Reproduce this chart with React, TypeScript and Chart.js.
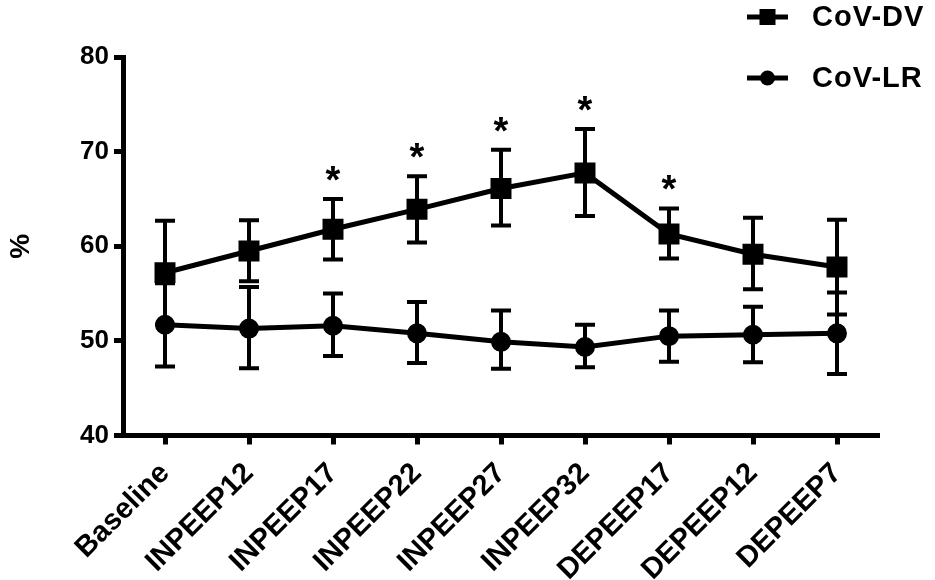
import React, { useEffect, useRef } from 'react';
import { Chart, registerables } from 'chart.js';

Chart.register(...registerables);

const FONT = '"Liberation Sans", Arial, sans-serif';

// categories and values (mean, upper / lower error bar ends)
const labels = ['Baseline', 'INPEEP12', 'INPEEP17', 'INPEEP22', 'INPEEP27', 'INPEEP32', 'DEPEEP17', 'DEPEEP12', 'DEPEEP7'];
const dvMean = [57.2, 59.5, 61.8, 63.9, 66.1, 67.75, 61.3, 59.15, 57.8];
const dvUpper = [62.7, 62.75, 65.0, 67.4, 70.2, 72.4, 64.0, 63.0, 62.8];
const dvLower = [51.7, 56.3, 58.6, 60.4, 62.2, 63.2, 58.7, 55.45, 52.8];
const lrMean = [51.7, 51.3, 51.6, 50.8, 49.9, 49.35, 50.5, 50.65, 50.8];
const lrUpper = [56.1, 55.7, 55.0, 54.1, 53.2, 51.7, 53.2, 53.6, 55.1];
const lrLower = [47.3, 47.1, 48.4, 47.65, 47.05, 47.2, 47.8, 47.75, 46.5];
const significant = [false, false, true, true, true, true, true, false, false];
const yTicks = [40, 50, 60, 70, 80];

const errorBars = {
  id: 'errorBars',
  beforeDatasetsDraw(chart: any) {
    const { ctx } = chart;
    const y = chart.scales.y;
    chart.data.datasets.forEach((ds: any, di: number) => {
      const meta = chart.getDatasetMeta(di);
      ctx.save();
      ctx.strokeStyle = '#000';
      ctx.lineWidth = 4;
      meta.data.forEach((pt: any, i: number) => {
        const top = y.getPixelForValue(ds.upper[i]);
        const bot = y.getPixelForValue(ds.lower[i]);
        ctx.beginPath();
        ctx.moveTo(pt.x, top);
        ctx.lineTo(pt.x, bot);
        ctx.moveTo(pt.x - 10, top);
        ctx.lineTo(pt.x + 10, top);
        ctx.moveTo(pt.x - 10, bot);
        ctx.lineTo(pt.x + 10, bot);
        ctx.stroke();
      });
      ctx.restore();
    });
  },
  afterDatasetsDraw(chart: any) {
    const { ctx } = chart;
    const y = chart.scales.y;
    const meta = chart.getDatasetMeta(0);
    ctx.save();
    ctx.fillStyle = '#000';
    ctx.font = `bold 38px ${FONT}`;
    ctx.textAlign = 'center';
    ctx.textBaseline = 'alphabetic';
    const m = ctx.measureText('*');
    significant.forEach((s, i) => {
      if (!s) return;
      const cap = y.getPixelForValue(dvUpper[i]);
      ctx.fillText('*', meta.data[i].x, cap - 18 - m.actualBoundingBoxDescent);
    });
    ctx.restore();
  },
};

const sideLegend = {
  id: 'sideLegend',
  afterDraw(chart: any) {
    const { ctx } = chart;
    const rows = [17, 78];
    ctx.save();
    chart.data.datasets.forEach((ds: any, di: number) => {
      const cy = rows[di];
      ctx.strokeStyle = '#000';
      ctx.fillStyle = '#000';
      ctx.lineWidth = 5;
      ctx.beginPath();
      ctx.moveTo(747, cy);
      ctx.lineTo(788, cy);
      ctx.stroke();
      if (ds.pointStyle === 'rect') {
        ctx.fillRect(767.5 - 8, cy - 8, 16, 16);
      } else {
        ctx.beginPath();
        ctx.arc(767.5, cy, 7.5, 0, Math.PI * 2);
        ctx.fill();
      }
      ctx.font = `bold 29px ${FONT}`;
      (ctx as any).letterSpacing = '1px';
      ctx.textAlign = 'left';
      ctx.textBaseline = 'middle';
      ctx.fillText(ds.label, 812, cy + 1);
      (ctx as any).letterSpacing = '0px';
    });
    ctx.restore();
  },
};

export default function App() {
  const ref = useRef<HTMLCanvasElement | null>(null);
  useEffect(() => {
    if (!ref.current) return;
    const chart = new Chart(ref.current, {
      type: 'line',
      data: {
        labels,
        datasets: [
          {
            label: 'CoV-DV', data: dvMean, upper: dvUpper, lower: dvLower,
            borderColor: '#000', backgroundColor: '#000', borderWidth: 5,
            pointStyle: 'rect', pointRadius: 11.3, pointHoverRadius: 11.3, tension: 0,
          } as any,
          {
            label: 'CoV-LR', data: lrMean, upper: lrUpper, lower: lrLower,
            borderColor: '#000', backgroundColor: '#000', borderWidth: 5,
            pointStyle: 'circle', pointRadius: 7.5, pointHoverRadius: 7.5, tension: 0,
          } as any,
        ],
      },
      options: {
        responsive: true,
        maintainAspectRatio: false,
        animation: false,
        layout: { padding: { top: 57, right: 56, left: 0, bottom: 0 } },
        plugins: { legend: { display: false }, tooltip: { enabled: false } },
        scales: {
          x: {
            offset: true,
            border: { color: '#000', width: 5 },
            grid: { display: true, drawOnChartArea: false, offset: false, tickLength: 9, tickWidth: 5, tickColor: '#000' },
            ticks: {
              color: '#000', font: { family: FONT, size: 29, weight: 'bold' },
              minRotation: 45, maxRotation: 45, autoSkip: false, padding: 12,
            },
            afterFit(scale: any) { scale.height = 144.5; },
          },
          y: {
            min: 40, max: 80,
            border: { color: '#000', width: 5 },
            grid: { display: true, drawOnChartArea: false, tickLength: 9, tickWidth: 5, tickColor: '#000' },
            afterBuildTicks(scale: any) { scale.ticks = yTicks.map((v) => ({ value: v })); },
            ticks: { color: '#000', font: { family: FONT, size: 26, weight: 'bold' }, padding: 5 },
            title: { display: true, text: '%', color: '#000', font: { family: FONT, size: 28, weight: 'bold' }, padding: { top: 4, bottom: 0 } },
            afterFit(scale: any) { scale.width = 123; },
          },
        },
      },
      plugins: [errorBars, sideLegend],
    });
    return () => chart.destroy();
  }, []);
  return (
    <div style={{ position: 'fixed', left: 0, top: 0, width: 935, height: 580, background: '#fff' }}>
      <canvas ref={ref} />
    </div>
  );
}
